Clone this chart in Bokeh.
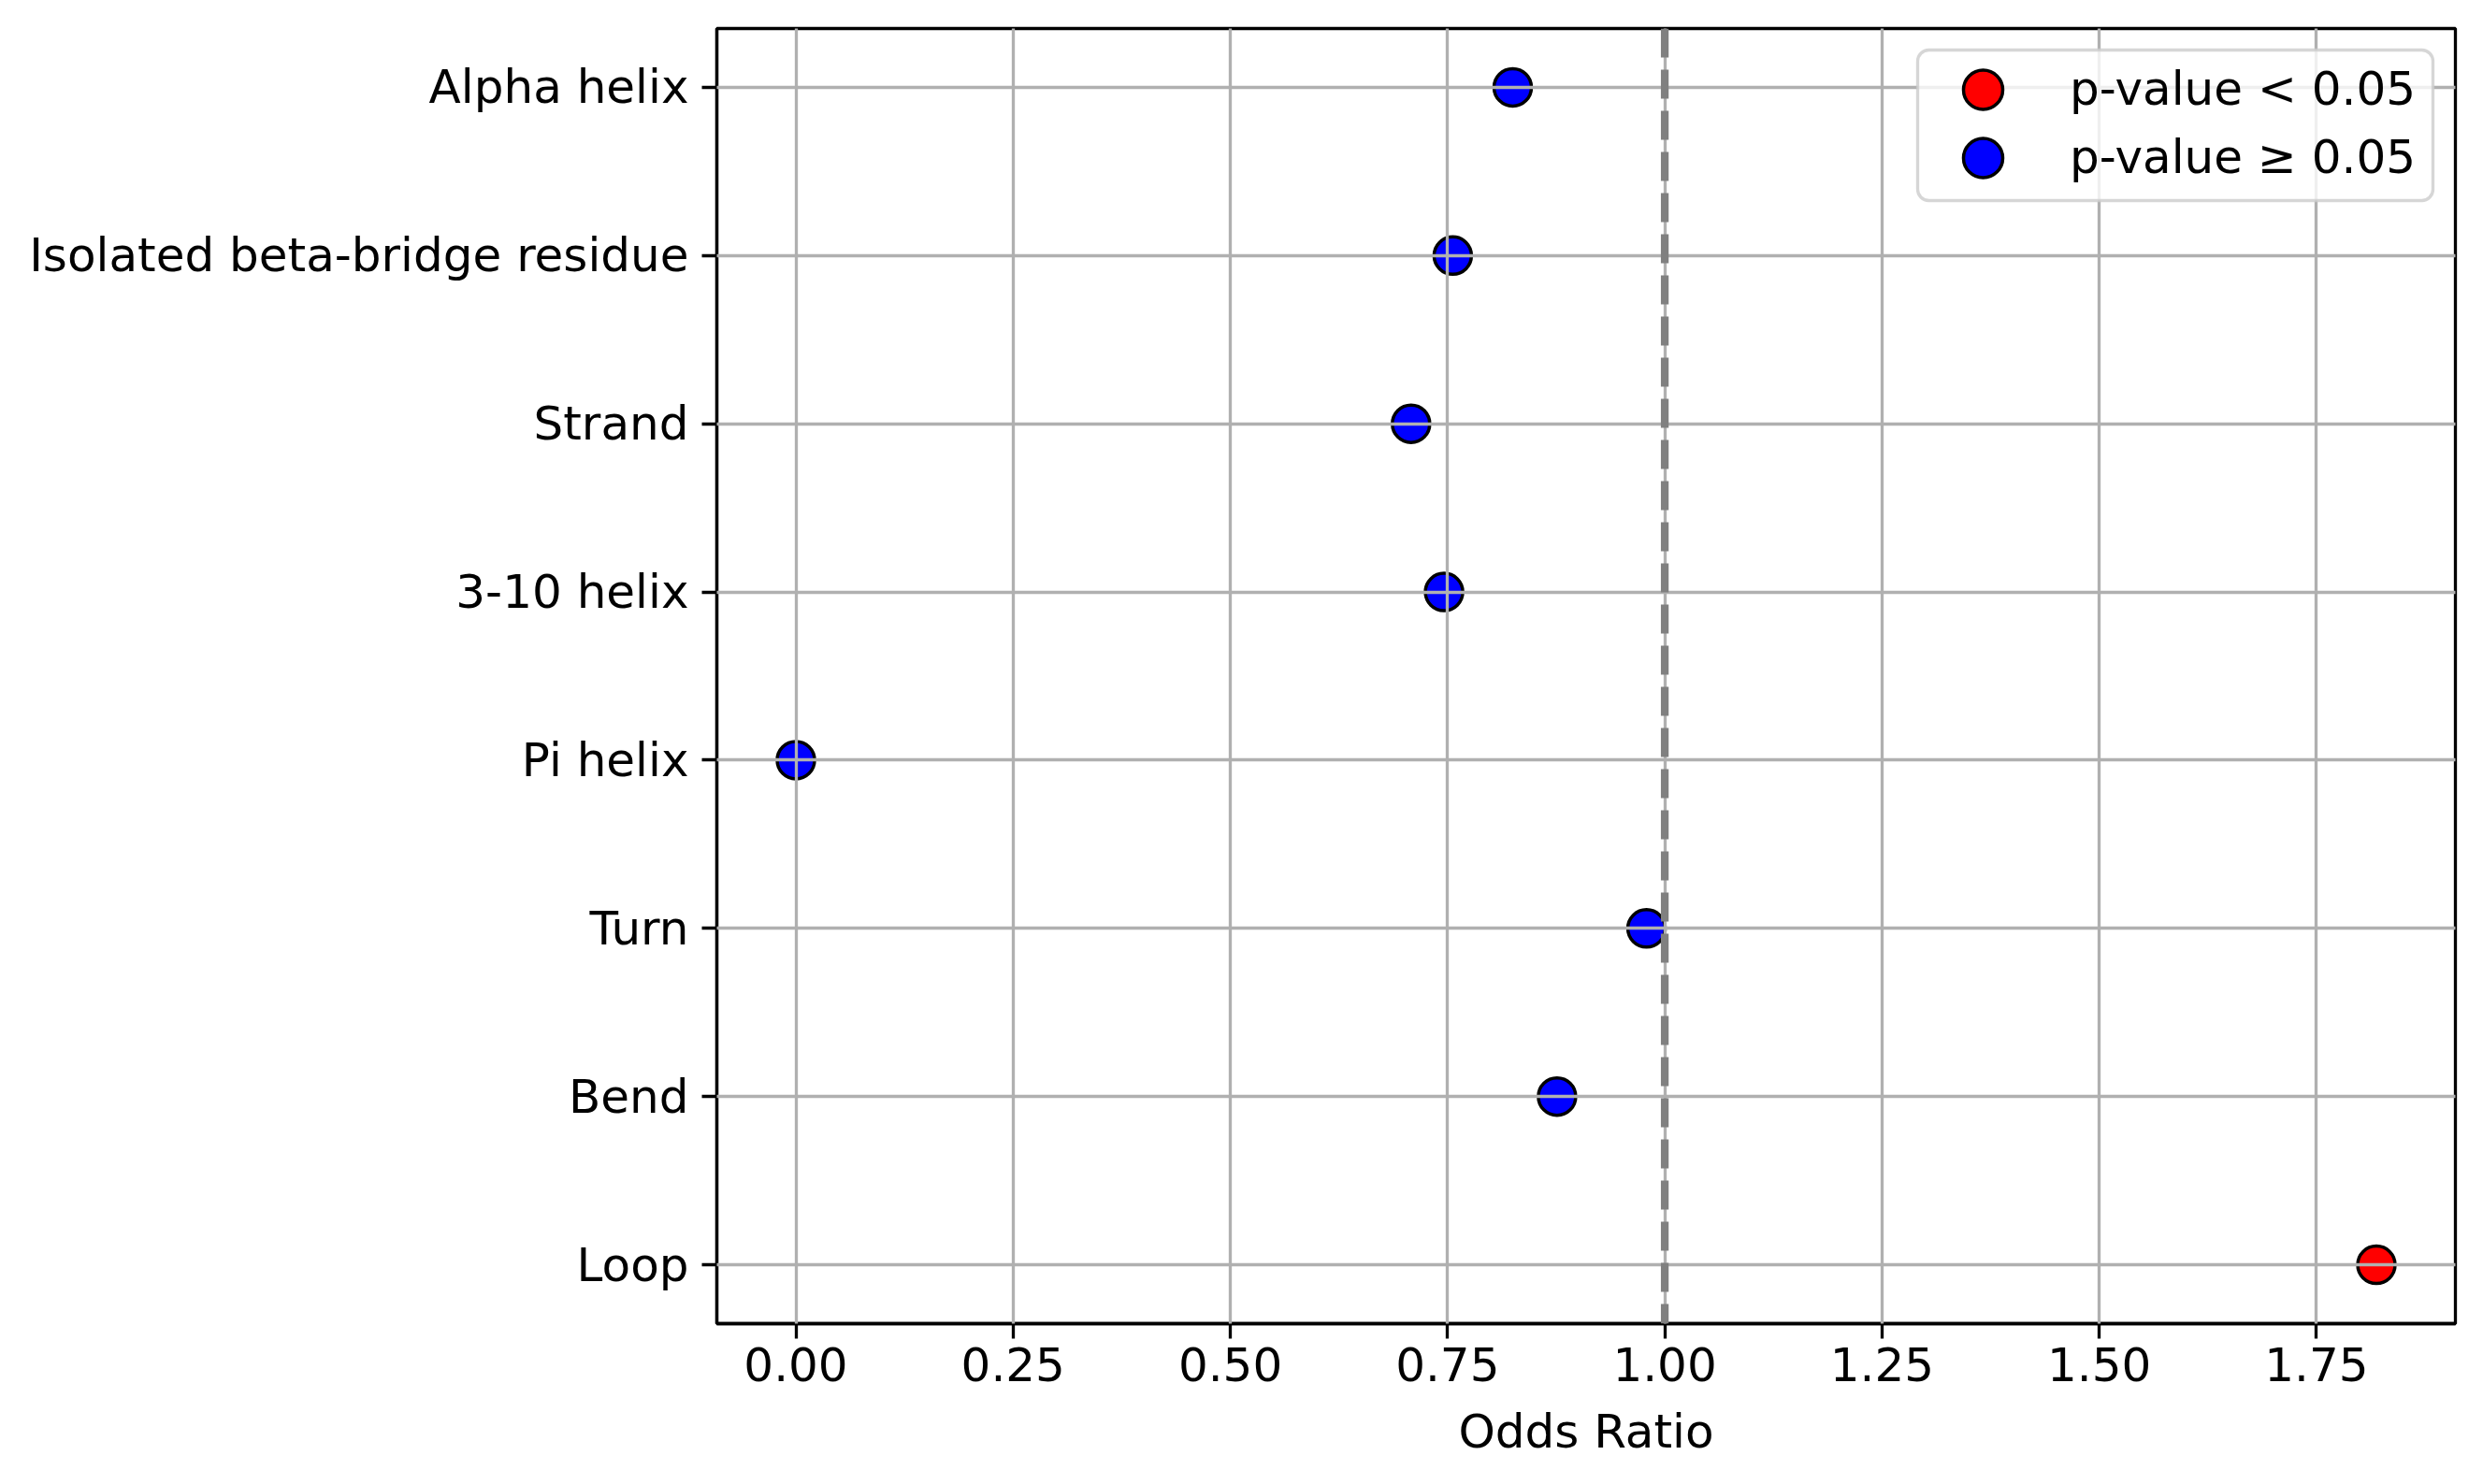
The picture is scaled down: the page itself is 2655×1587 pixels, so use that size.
from bokeh.plotting import figure
from bokeh.models import (Range1d, FactorRange, FixedTicker, PrintfTickFormatter,
                          Span, Legend, LegendItem, ColumnDataSource, BoxAnnotation)
from bokeh.embed import file_html
from bokeh.resources import INLINE

# ---- data ----
categories = ["Alpha helix", "Isolated beta-bridge residue", "Strand", "3-10 helix",
              "Pi helix", "Turn", "Bend", "Loop"]
odds_ratios = [0.825, 0.756, 0.708, 0.746, 0.0, 0.979, 0.876, 1.819]
significant = [False, False, False, False, False, False, False, True]
x_ticks = [0.0, 0.25, 0.5, 0.75, 1.0, 1.25, 1.5, 1.75]
reference_line = 1.0
legend_labels = ["p-value < 0.05", "p-value \u2265 0.05"]
x_label = "Odds Ratio"

FONT = "DejaVu Sans"
FS = "50px"

sig_src = ColumnDataSource(dict(
    x=[v for v, s in zip(odds_ratios, significant) if s],
    y=[c for c, s in zip(categories, significant) if s]))
ns_src = ColumnDataSource(dict(
    x=[v for v, s in zip(odds_ratios, significant) if not s],
    y=[c for c, s in zip(categories, significant) if not s]))

xmin, xmax = min(odds_ratios), max(odds_ratios)
pad = (xmax - xmin) * 0.05

p = figure(width=2639, height=1571, output_backend="svg", toolbar_location=None,
           x_range=Range1d(xmin - pad, xmax + pad),
           y_range=FactorRange(factors=categories[::-1], range_padding=-0.0375),
           min_border_left=766, min_border_right=14, min_border_top=30,
           min_border_bottom=156)
p.background_fill_color = "white"
p.border_fill_color = "white"
p.outline_line_color = "black"
p.outline_line_width = 3.3

r_ns = p.scatter("x", "y", source=ns_src, size=40, fill_color="#0000ff",
                 line_color="black", line_width=3.5)
r_sig = p.scatter("x", "y", source=sig_src, size=40, fill_color="#ff0000",
                  line_color="black", line_width=3.5)

for g in (p.xgrid, p.ygrid):
    g.grid_line_color = "#b0b0b0"
    g.grid_line_width = 3.3
    g.level = "guide"

span = Span(location=reference_line, dimension="height", line_color="#808080",
            line_width=8.3, line_dash="31 13")
p.add_layout(span)

p.xaxis.ticker = FixedTicker(ticks=x_ticks)
p.xaxis.formatter = PrintfTickFormatter(format="%.2f")
p.xaxis.axis_label = x_label

for ax in (p.xaxis, p.yaxis):
    ax.axis_line_color = "black"
    ax.axis_line_width = 3.3
    ax.major_tick_line_color = "black"
    ax.major_tick_line_width = 3.3
    ax.major_tick_out = 16
    ax.major_tick_in = 0
    ax.minor_tick_line_color = None
    ax.major_label_text_font = FONT
    ax.major_label_text_font_size = FS
    ax.major_label_text_color = "black"
    ax.axis_label_text_font = FONT
    ax.axis_label_text_font_size = FS
    ax.axis_label_text_font_style = "normal"
    ax.axis_label_text_color = "black"

p.xaxis.major_label_standoff = 9
p.xaxis.axis_label_standoff = 22
p.yaxis.major_label_standoff = 14

# legend frame (screen units, relative to the plot frame, y measured from bottom)
box = BoxAnnotation(left=1284, right=1835, top=1362, bottom=1201,
                    left_units="screen", right_units="screen",
                    top_units="screen", bottom_units="screen",
                    fill_color="white", fill_alpha=0.8,
                    line_color="#cccccc", line_alpha=0.8, line_width=3.3)
try:
    box.border_radius = 12
except Exception:
    pass
p.add_layout(box)


def make_legend(label, renderer, loc):
    lg = Legend(items=[LegendItem(label=label, renderers=[renderer])], location=loc)
    lg.label_text_font = FONT
    lg.label_text_font_size = FS
    lg.label_text_color = "black"
    lg.label_text_baseline = "middle"
    lg.glyph_width = 140
    lg.glyph_height = 105
    lg.label_height = 50
    lg.label_standoff = 23
    lg.padding = 0
    lg.margin = 0
    lg.border_line_color = None
    lg.background_fill_alpha = 0
    return lg


p.add_layout(make_legend(legend_labels[0], r_sig, (1284, 1267.5)))
p.add_layout(make_legend(legend_labels[1], r_ns, (1284, 1194.5)))

open("out.html", "w").write(file_html(p, INLINE))
